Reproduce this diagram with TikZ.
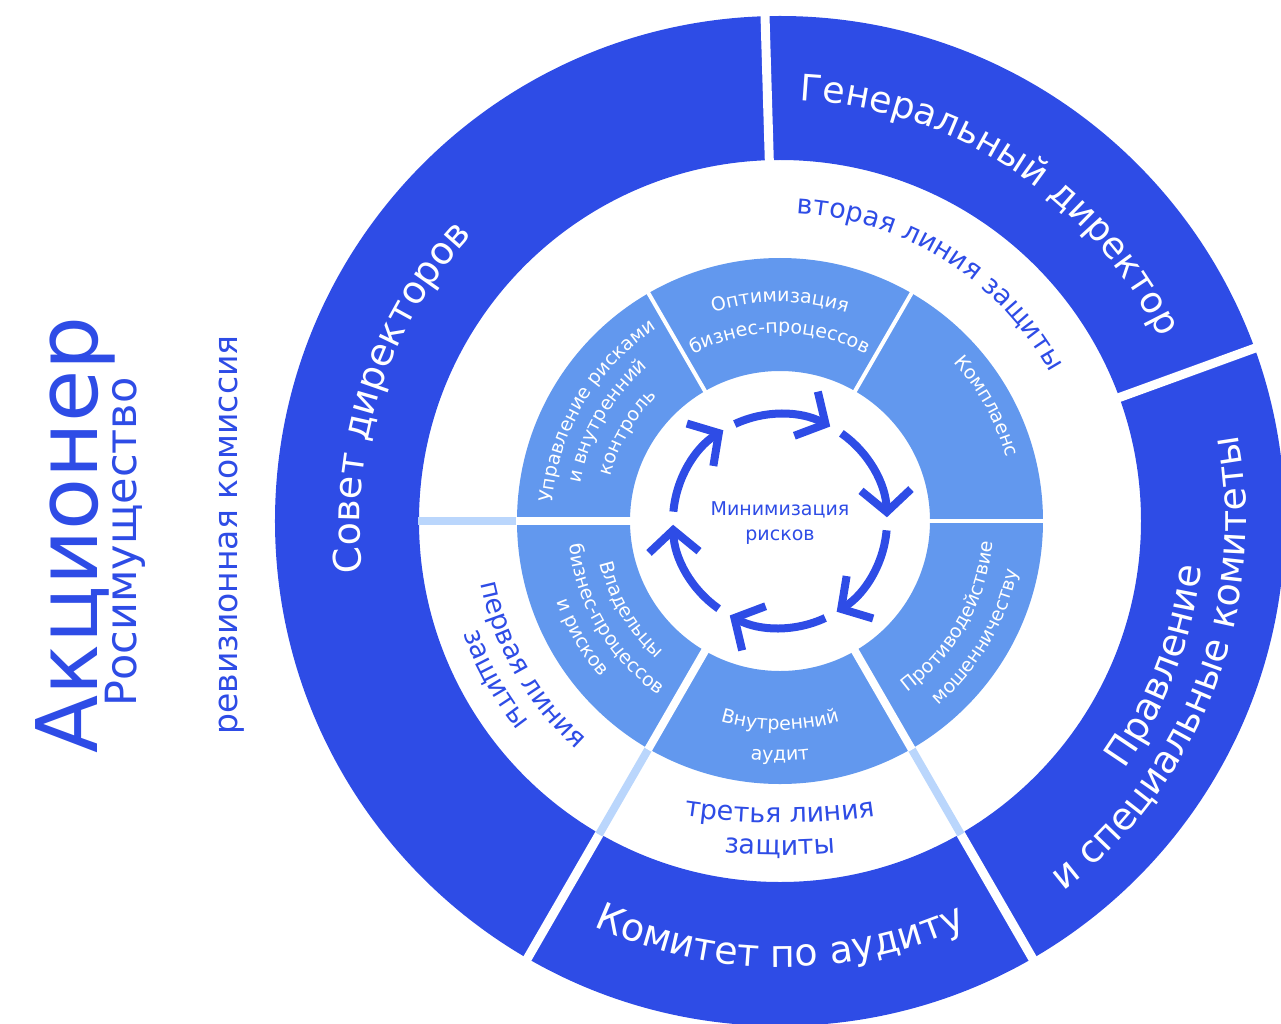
\documentclass[tikz,border=0pt]{standalone}
\usepackage{fontspec}
\setmainfont{DejaVu Sans}
\usepackage{tikz}
\usetikzlibrary{arrows.meta,decorations.text}
\usepackage{xcolor}
\definecolor{rosblue}{RGB}{46,76,230}
\definecolor{ringblue}{RGB}{98,152,238}
\definecolor{paleblue}{RGB}{186,214,252}
\newcommand{\outerfont}{\fontsize{38}{44}\selectfont}
\newcommand{\linefont}{\fontsize{27}{32}\selectfont}
\newcommand{\innerfont}{\fontsize{19}{25}\selectfont}

\begin{document}
\begin{tikzpicture}[x=1pt,y=1pt,
  ringtext/.style={decorate,decoration={text along path,text align=center,text color=#1}},
  ringgap/.style={white,line width=9pt},
  palegap/.style={paleblue,line width=8pt},
  cycarrow/.style={rosblue,line width=8pt,-{Straight Barb[length=22pt,width=50pt]}}]
\useasboundingbox (-780,-502) rectangle (501,521);
\fill[rosblue,even odd rule] (0,0) circle (505) (0,0) circle (361);
\fill[ringblue,even odd rule] (0,0) circle (263) (0,0) circle (150);
\foreach \a in {20,91.7,240,300} \draw[ringgap] (\a:355) -- (\a:515);
\foreach \a in {180,240,300} \draw[palegap] (\a:262) -- (\a:362);
\foreach \a in {0,60,120} \draw[white,line width=4pt] (\a:146) -- (\a:265);
\foreach \a in {180,240,300} \draw[white,line width=8pt] (\a:146) -- (\a:264);
\foreach \a in {175,115,...,-125} \draw[cycarrow] (\a:107) arc[start angle=\a,end angle=\a-53,radius=107];
\path[ringtext=white,decoration={text={|\fontsize{36.5}{44}\selectfont|Генеральный директор}}] (96.5:421) arc[start angle=96.5,end angle=16.5,radius=421];
\path[ringtext=white,decoration={text={|\outerfont|Совет директоров}}] (202:420) arc[start angle=202,end angle=122,radius=420];
\path[ringtext=white,decoration={text={|\outerfont|Комитет по аудиту}}] (-130:446) arc[start angle=-130,end angle=-50,radius=446];
\path[ringtext=white,decoration={text={|\outerfont|Правление}}] (-61:424) arc[start angle=-61,end angle=19,radius=424];
\path[ringtext=white,decoration={text={|\outerfont|и специальные комитеты}}] (-61:466) arc[start angle=-61,end angle=19,radius=466];
\path[ringtext=rosblue,decoration={text={|\linefont|вторая линия защиты}}] (102.8:308) arc[start angle=102.8,end angle=12.8,radius=308];
\path[ringtext=rosblue,decoration={text={|\linefont|первая линия}}] (175:306) arc[start angle=175,end angle=245,radius=306];
\path[ringtext=rosblue,decoration={text={|\linefont|защиты}}] (174:336) arc[start angle=174,end angle=244,radius=336];
\path[ringtext=rosblue,decoration={text={|\linefont|третья линия}}] (0,348) ++(-110:650) arc[start angle=-110,end angle=-70,radius=650];
\path[ringtext=rosblue,decoration={text={|\linefont|защиты}}] (0,316) ++(-110:650) arc[start angle=-110,end angle=-70,radius=650];
\path[ringtext=white,decoration={text={|\innerfont|Оптимизация}}] (130:219) arc[start angle=130,end angle=50,radius=219];
\path[ringtext=white,decoration={text={|\innerfont|бизнес-процессов}}] (130:188) arc[start angle=130,end angle=50,radius=188];
\path[ringtext=white,decoration={text={|\innerfont|Комплаенс}}] (69:235) arc[start angle=69,end angle=-11,radius=235];
\path[ringtext=white,decoration={text={|\innerfont|Управление рисками}}] (189:228) arc[start angle=189,end angle=109,radius=228];
\path[ringtext=white,decoration={text={|\innerfont|и внутренний}}] (190:203) arc[start angle=190,end angle=110,radius=203];
\path[ringtext=white,decoration={text={|\innerfont|контроль}}] (190:175) arc[start angle=190,end angle=110,radius=175];
\path[ringtext=white,decoration={text={|\innerfont|Владельцы}}] (170.7:185) arc[start angle=170.7,end angle=250.7,radius=185];
\path[ringtext=white,decoration={text={|\innerfont|бизнес-процессов}}] (170.8:212) arc[start angle=170.8,end angle=250.8,radius=212];
\path[ringtext=white,decoration={text={|\innerfont|и рисков}}] (170.4:238) arc[start angle=170.4,end angle=250.4,radius=238];
\path[ringtext=white,decoration={text={|\innerfont|Внутренний}}] (-130:209) arc[start angle=-130,end angle=-50,radius=209];
\path[ringtext=white,decoration={text={|\innerfont|аудит}}] (-130:240) arc[start angle=-130,end angle=-50,radius=240];
\path[ringtext=white,decoration={text={|\innerfont|Противодействие}}] (-69.5:214) arc[start angle=-69.5,end angle=10.5,radius=214];
\path[ringtext=white,decoration={text={|\innerfont|мошенничеству}}] (-70.5:243) arc[start angle=-70.5,end angle=9.5,radius=243];
\node[font=\innerfont,text=rosblue,align=center] (riskcore) at (0,-2) {Минимизация\\рисков};
\node[rotate=90,anchor=base,text=rosblue,font=\fontsize{85}{90}\selectfont] (holder) at (-682,-14) {Акционер};
\node[rotate=90,anchor=base,text=rosblue,font=\fontsize{43}{48}\selectfont] (rosim) at (-643,-21) {Росимущество};
\node[rotate=90,anchor=base,text=rosblue,font=\fontsize{33}{38}\selectfont] (revcom) at (-542,-14) {ревизионная комиссия};
\end{tikzpicture}
\end{document}
